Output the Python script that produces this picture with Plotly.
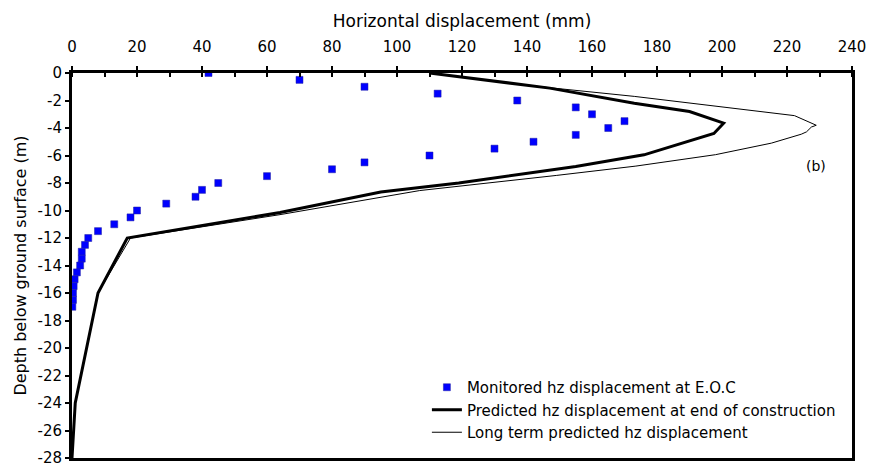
import plotly.graph_objects as go

# Monitored horizontal displacement at end of construction
mon_disp = [42, 70, 90, 112.5, 137, 155, 160, 170, 165, 155, 142, 130, 110, 90, 80, 60,
            45, 40, 38, 29, 20, 18, 13, 8, 5, 4, 3, 3, 2.5, 1.5, 0.8, 0.5, 0.3, 0.3, 0.1]
mon_depth = [0, -0.5, -1, -1.5, -2, -2.5, -3, -3.5, -4, -4.5, -5, -5.5, -6, -6.5, -7, -7.5,
             -8, -8.5, -9, -9.5, -10, -10.5, -11, -11.5, -12, -12.5, -13, -13.5, -14, -14.5,
             -15, -15.5, -16, -16.5, -17]

# Predicted at end of construction (thick)
eoc_disp = [110, 147, 173, 190, 200.5, 197.5, 176, 155, 119, 95, 64, 17, 8, 1, 0]
eoc_depth = [0, -1.1, -2.2, -2.8, -3.65, -4.4, -5.95, -6.8, -8.0, -8.65, -10.15, -12, -16, -24, -28]

# Long term predicted (thin)
lt_disp = [110, 140, 173, 222.3, 229, 227.5, 226, 224.4, 215.2, 198, 173.5, 155, 149, 107, 64, 18, 8, 1, 0]
lt_depth = [0, -0.9, -1.7, -3.1, -3.8, -3.93, -4.28, -4.45, -5.1, -5.94, -6.77, -7.3, -7.45, -8.55, -10.3, -12, -16, -24, -28]

x_ticks = list(range(0, 241, 20))
y_ticks = list(range(0, -29, -2))
y_ticklabels = [str(v) for v in y_ticks]

fnt = "DejaVu Sans, Verdana, sans-serif"

fig = go.Figure()
fig.add_trace(go.Scatter(
    x=mon_disp, y=mon_depth, mode="markers",
    marker=dict(symbol="square", size=7, color="#0000FF", line=dict(color="#2020a0", width=0.5)),
    name="Monitored hz displacement at E.O.C"))
fig.add_trace(go.Scatter(
    x=eoc_disp, y=eoc_depth, mode="lines", line=dict(color="black", width=3),
    name="Predicted hz displacement at end of construction"))
fig.add_trace(go.Scatter(
    x=lt_disp, y=lt_depth, mode="lines", line=dict(color="black", width=1),
    name="Long term predicted hz displacement"))

fig.add_annotation(x=229, y=-6.75, text="(b)", showarrow=False,
                   font=dict(family=fnt, size=14, color="black"))

fig.update_layout(
    width=874, height=475,
    margin=dict(l=72, r=16, t=73, b=8),
    paper_bgcolor="white", plot_bgcolor="white",
    font=dict(family=fnt, size=15, color="black"),
    showlegend=True,
    legend=dict(x=0.455, y=0.226, xanchor="left", yanchor="top",
                bgcolor="rgba(0,0,0,0)", font=dict(size=15, family=fnt),
                tracegroupgap=0, itemwidth=30),
    xaxis=dict(side="top", range=[0, 240], tickvals=x_ticks, showgrid=False, zeroline=False,
               showline=True, linecolor="black", linewidth=3, mirror=True,
               ticks="outside", ticklen=4, tickwidth=2, tickcolor="black",
               ticklabelstandoff=8,
               minor=dict(dtick=10, ticks="inside", ticklen=4, tickwidth=2, tickcolor="black", showgrid=False),
               title=dict(text="Horizontal displacement (mm)", font=dict(size=17), standoff=7),
               tickfont=dict(size=15)),
    yaxis=dict(range=[-28, 0], tickvals=y_ticks, ticktext=y_ticklabels, showgrid=False, zeroline=False,
               showline=True, linecolor="black", linewidth=3, mirror=True,
               ticks="outside", ticklen=4, tickwidth=2, tickcolor="black",
               title=dict(text="Depth below ground surface (m)", font=dict(size=16), standoff=7),
               tickfont=dict(size=15)),
)

fig.write_html("out.html")
